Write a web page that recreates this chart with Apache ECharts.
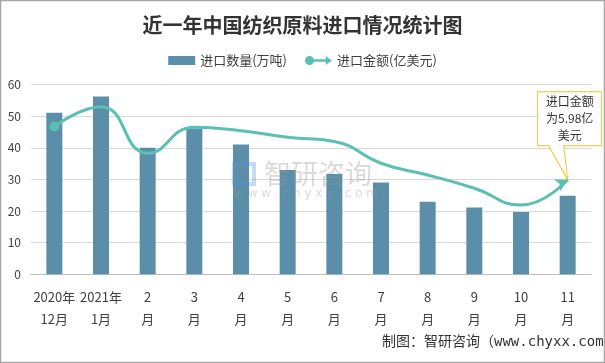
<!DOCTYPE html>
<html>
<head>
<meta charset="utf-8">
<script src="https://cdn.jsdelivr.net/npm/echarts@6/dist/echarts.min.js"></script>
<style>html,body{margin:0;padding:0;background:#fff;}#c{width:605px;height:363px;}</style>
</head>
<body>
<div id="c"></div>
<script>
var categories = ['2020年\n12月','2021年\n1月','2\n月','3\n月','4\n月','5\n月','6\n月','7\n月','8\n月','9\n月','10\n月','11\n月'];
var importVolume = [51.1, 56.2, 40, 46, 41, 33, 31.7, 29, 22.9, 21.1, 19.7, 24.8];
var importValue = [9.34, 10.6, 7.66, 9.3, 9.08, 8.66, 8.4, 7.02, 6.28, 5.44, 4.38, 5.98];
var leftTicks = [0, 60, 10];
var rightTicks = [0, 12];
var calloutText = '进口金额\n为5.98亿\n美元';

var FONT = '"Noto Sans CJK SC","Noto Sans",sans-serif';
var chart = echarts.init(document.getElementById('c'), null, {renderer:'canvas'});

var lineData = importValue.map(function(v, i){
  if (i === 0) return {value: v, symbol: 'circle', symbolSize: 10};
  if (i === importValue.length - 1) return {value: v, symbol: 'arrow', symbolSize: [10, 12], symbolRotate: -62};
  return {value: v, symbol: 'none'};
});

chart.setOption({
  backgroundColor: '#fff',
  animation: false,
  title: {
    text: '近一年中国纺织原料进口情况统计图',
    left: 'center', top: 10,
    textStyle: {fontFamily: FONT, fontSize: 20, fontWeight: 'bold', color: '#333'}
  },
  legend: {
    top: 49, left: 'center', itemGap: 18,
    textStyle: {fontFamily: FONT, fontSize: 13, color: '#404040'},
    data: [
      {name: '进口数量(万吨)', icon: 'rect', itemStyle: {color: '#5B8FA9'}},
      {name: '进口金额(亿美元)', icon: 'path://M0,5 A5,5 0 1,1 10,5 A5,5 0 1,1 0,5 Z M8,3.5 L23,3.5 L23,0 L30,5 L23,10 L23,6.5 L8,6.5 Z'}
    ],
    itemWidth: 27, itemHeight: 9
  },
  grid: {left: 31, right: 14, top: 84.5, bottom: 88.7, containLabel: false},
  xAxis: {
    type: 'category', data: categories,
    axisLine: {lineStyle: {color: '#bfbfbf'}},
    axisTick: {show: false},
    axisLabel: {fontFamily: FONT, fontSize: 13, color: '#404040', lineHeight: 22, margin: 12, interval: 0}
  },
  yAxis: [
    {type: 'value', min: leftTicks[0], max: leftTicks[1], interval: leftTicks[2],
     axisLine: {show: false}, axisTick: {show: false},
     axisLabel: {fontFamily: FONT, fontSize: 12, color: '#404040', margin: 10},
     splitLine: {lineStyle: {color: '#d9d9d9'}}},
    {type: 'value', min: rightTicks[0], max: rightTicks[1], show: false, splitLine: {show: false}}
  ],
  graphic: [
    {type: 'rect', shape: {x: 0.5, y: 0.5, width: 604, height: 362}, style: {fill: 'none', stroke: '#a6a6a6', lineWidth: 1.5}, silent: true},
    {type: 'text', left: 382, top: 335, style: {text: '制图：智研咨询（www.chyxx.com)', font: '14px "DejaVu Sans Mono","Noto Sans CJK SC",monospace', fill: '#333'}, z: 10},
    {type: 'text', left: 264, top: 160, style: {text: '智研咨询', font: '27px "Noto Sans CJK SC"', fill: 'rgba(150,150,150,0.35)'}, z: 10},
    {type: 'text', left: 234, top: 188, style: {text: 'w w w . c h y x x . c o m', font: '12px "DejaVu Sans"', fill: 'rgba(150,150,150,0.35)'}, z: 10},
    {type: 'rect', shape: {x: 234, y: 164, width: 20, height: 20}, style: {fill: 'none', stroke: 'rgba(90,150,220,0.35)', lineWidth: 4}, z: 10}
  ],
  series: [
    {name: '进口数量(万吨)', type: 'bar', data: importVolume, barWidth: 16,
     itemStyle: {color: '#5B8FA9'}},
    {name: '进口金额(亿美元)', type: 'line', yAxisIndex: 1, data: lineData, smooth: 0.5,
     lineStyle: {color: '#5BBFB2', width: 3}, itemStyle: {color: '#5BBFB2'},
     markPoint: {
       symbol: 'path://M0,0 L64,0 L64,54 L26,54 L30,88 L11,54 L0,54 Z',
       symbolSize: [64, 88], symbolOffset: [2, -44],
       itemStyle: {color: '#fff', borderColor: '#F5BE18', borderWidth: 1},
       label: {show: true, formatter: calloutText, position: 'inside', offset: [0, -17],
               fontFamily: FONT, fontSize: 12, lineHeight: 17, color: '#333'},
       data: [{coord: [categories[11], importValue[11]]}]
     }}
  ]
});
</script>
</body>
</html>
